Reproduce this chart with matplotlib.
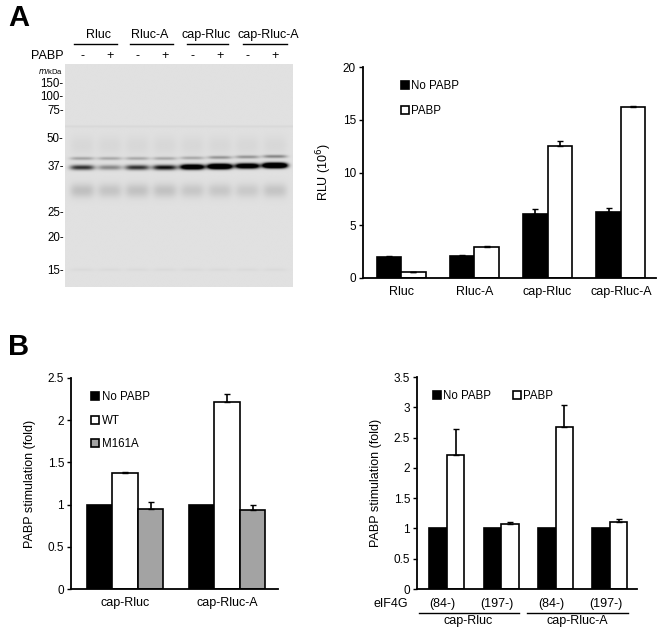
import numpy as np
import matplotlib
matplotlib.use("Agg")
import matplotlib.pyplot as plt

plt.rcParams['font.family'] = ['Liberation Sans', 'DejaVu Sans']

W, H = 660, 630

# panel A blot
lane_sign = ['-', '+', '-', '+', '-', '+', '-', '+']
lane_groups = ['Rluc', 'Rluc-A', 'cap-Rluc', 'cap-Rluc-A']
marker_kda = ['150', '100', '75', '50', '37', '25', '20', '15']
marker_mig = [19, 32, 46, 74, 102, 148, 173, 206]
band37 = [0.7, 0.35, 0.7, 0.85, 1.5, 1.9, 1.45, 2.0]
band40 = [0.24, 0.22, 0.22, 0.22, 0.22, 0.3, 0.3, 0.36]
band30 = [0.13, 0.11, 0.12, 0.12, 0.1, 0.1, 0.09, 0.11]

# panel A RLU
rlu_cats = ['Rluc', 'Rluc-A', 'cap-Rluc', 'cap-Rluc-A']
rlu_no = [2.0, 2.1, 6.1, 6.3]
rlu_no_err = [0.1, 0.1, 0.45, 0.35]
rlu_pabp = [0.55, 2.95, 12.55, 16.2]
rlu_pabp_err = [0.05, 0.12, 0.4, 0.12]

# panel B left
bl_cats = ['cap-Rluc', 'cap-Rluc-A']
bl_no = [1.0, 1.0]
bl_wt = [1.37, 2.21]
bl_wt_err = [0.02, 0.1]
bl_mut = [0.95, 0.94]
bl_mut_err = [0.08, 0.06]

# panel B right
br_ticks = ['(84-)', '(197-)', '(84-)', '(197-)']
br_groups = ['cap-Rluc', 'cap-Rluc-A']
br_no = [1.0, 1.0, 1.0, 1.0]
br_pabp = [2.22, 1.08, 2.67, 1.10]
br_pabp_err = [0.42, 0.02, 0.36, 0.05]


def rect(x0, y0, x1, y1):
    return [x0 / W, 1 - y1 / H, (x1 - x0) / W, (y1 - y0) / H]


def style(ax):
    for s in ['top', 'right']:
        ax.spines[s].set_visible(False)
    for s in ['left', 'bottom']:
        ax.spines[s].set_linewidth(1.3)
    ax.tick_params(axis='y', direction='out', length=3, width=1.0, labelsize=8.5, pad=2)
    ax.tick_params(axis='x', length=0, labelsize=9, pad=6)


def leg(ax, anchor, **kw):
    ax.legend(loc='upper left', bbox_to_anchor=anchor, frameon=False, fontsize=8.3,
              handlelength=0.7, handleheight=0.7, handletextpad=0.2, borderpad=0, **kw)


fig = plt.figure(figsize=(W / 100, H / 100), dpi=100)

# ---------- blot ----------
axb = fig.add_axes(rect(65, 64, 293, 287))
xs = np.linspace(0.38, 8.65, 460)
ys = np.linspace(0, 223, 446)
X, Y = np.meshgrid(xs, ys)
img = np.full(X.shape, 0.12)
img += 0.03 * np.exp(-((Y - 63) / 1.2) ** 2)
for i in range(8):
    lane = np.exp(-((X - (i + 1)) / 0.44) ** 4)
    shift = 0.5 * max(i - 3, 0)
    prof = (band37[i] * np.exp(-((Y - 104 + shift) / 2.5) ** 2)
            + band40[i] * np.exp(-((Y - 95 + shift) / 1.6) ** 2)
            + band30[i] * np.exp(-((Y - 127) / 7) ** 2)
            + 0.035 * np.exp(-((Y - 82) / 10) ** 2)
            + 0.025 * np.exp(-((Y - 206) / 1.5) ** 2))
    img += lane * prof
img = np.clip(img, 0, 1)
axb.imshow(img, cmap='gray_r', vmin=0, vmax=1, aspect='auto',
           extent=[0.38, 8.65, 223, 0], interpolation='bilinear')
axb.set_xlim(0.38, 8.65)
axb.set_ylim(223, 0)
for s in axb.spines.values():
    s.set_visible(False)
axb.set_yticks(marker_mig)
axb.set_yticklabels([k + '-' for k in marker_kda], fontsize=8.3)
axb.tick_params(axis='y', length=0, pad=1)
axb.set_xticks([])
axb.text(0.33, 8, r'$\it{m}$/kDa', fontsize=5.5, ha='right', va='center')
tr = axb.get_xaxis_transform()
for i, s in enumerate(lane_sign):
    axb.text(i + 1, 1.036, s, transform=tr, ha='center', va='center', fontsize=9)
axb.text(0.33, 1.036, 'PABP', transform=tr, ha='right', va='center', fontsize=9)
label_x = [1.58, 3.45, 5.5, 7.75]
for g, name in enumerate(lane_groups):
    c = 2 * g + 1.5
    axb.text(label_x[g], 1.13, name, transform=tr, ha='center', va='center', fontsize=9)
    axb.plot([c - 0.78 + 0.1 * (g // 2), c + 0.78 + 0.15 * (g // 3)], [1.09, 1.09],
             transform=tr, color='k', lw=1.0, clip_on=False)

# ---------- RLU bars ----------
ax = fig.add_axes(rect(363, 67, 656, 278))
x = np.arange(len(rlu_cats))
w = 0.335
ax.bar(x - w / 2, rlu_no, w, color='k', edgecolor='k', lw=1.2, label='No PABP')
ax.bar(x + w / 2, rlu_pabp, w, color='w', edgecolor='k', lw=1.2, label='PABP')
ax.errorbar(x - w / 2, rlu_no, yerr=[np.zeros(4), rlu_no_err], fmt='none',
            ecolor='k', capsize=2.5, elinewidth=1.2)
ax.errorbar(x + w / 2, rlu_pabp, yerr=[np.zeros(4), rlu_pabp_err], fmt='none',
            ecolor='k', capsize=2.5, elinewidth=1.2)
ax.set_xlim(-0.52, 3.48)
ax.set_ylim(0, 20)
ax.set_yticks([0, 5, 10, 15, 20])
ax.set_xticks(x)
ax.set_xticklabels(rlu_cats)
ax.set_ylabel('RLU (10$^6$)', fontsize=9, labelpad=6)
style(ax)
leg(ax, (0.11, 0.965), labelspacing=1.15)

# ---------- B left ----------
ax = fig.add_axes(rect(71, 378, 278, 589))
x = np.arange(len(bl_cats))
w = 0.25
ax.bar(x - w, bl_no, w, color='k', edgecolor='k', lw=1.2, label='No PABP')
ax.bar(x, bl_wt, w, color='w', edgecolor='k', lw=1.2, label='WT')
ax.bar(x + w, bl_mut, w, color='#a3a3a3', edgecolor='k', lw=1.2, label='M161A')
ax.errorbar(x, bl_wt, yerr=[np.zeros(2), bl_wt_err], fmt='none', ecolor='k',
            capsize=2.5, elinewidth=1.2)
ax.errorbar(x + w, bl_mut, yerr=[np.zeros(2), bl_mut_err], fmt='none', ecolor='k',
            capsize=2.5, elinewidth=1.2)
ax.set_xlim(-0.53, 1.5)
ax.set_ylim(0, 2.5)
ax.set_yticks([0, 0.5, 1, 1.5, 2, 2.5])
ax.set_yticklabels(['0', '0.5', '1', '1.5', '2', '2.5'])
ax.set_xticks(x)
ax.set_xticklabels(bl_cats)
ax.set_ylabel('PABP stimulation (fold)', fontsize=9, labelpad=8)
style(ax)
leg(ax, (0.07, 0.965), labelspacing=1.0)

# ---------- B right ----------
ax = fig.add_axes(rect(417, 377, 637, 589))
x = np.arange(len(br_ticks))
w = 0.32
ax.bar(x - w / 2, br_no, w, color='k', edgecolor='k', lw=1.2, label='No PABP')
ax.bar(x + w / 2, br_pabp, w, color='w', edgecolor='k', lw=1.2, label='PABP')
ax.errorbar(x + w / 2, br_pabp, yerr=[np.zeros(4), br_pabp_err], fmt='none',
            ecolor='k', capsize=2.5, elinewidth=1.2)
ax.set_xlim(-0.55, 3.5)
ax.set_ylim(0, 3.5)
ax.set_yticks([0, 0.5, 1, 1.5, 2, 2.5, 3, 3.5])
ax.set_yticklabels(['0', '0.5', '1', '1.5', '2', '2.5', '3', '3.5'])
ax.set_xticks(x - 0.08)
ax.set_xticklabels(br_ticks)
ax.set_ylabel('PABP stimulation (fold)', fontsize=9, labelpad=8)
style(ax)
ax.tick_params(axis='x', pad=6.5)
leg(ax, (0.045, 0.965), ncol=2, columnspacing=1.9)
tr = ax.get_xaxis_transform()
ax.text(-0.72, -0.07, 'eIF4G', transform=tr, ha='right', va='center', fontsize=9)
for g, name in enumerate(br_groups):
    a, b = 2 * g - 0.52, 2 * g + 1.33
    ax.plot([a, b], [-0.113, -0.113], transform=tr, color='k', lw=1.0, clip_on=False)
    ax.text(2 * g + 0.4, -0.15, name, transform=tr, ha='center', va='center', fontsize=9)

fig.text(8 / W, 1 - 18 / H, 'A', fontsize=21, fontweight='bold', va='center')
fig.text(8 / W, 1 - 347 / H, 'B', fontsize=21, fontweight='bold', va='center')

fig.savefig('out.png', dpi=100)
